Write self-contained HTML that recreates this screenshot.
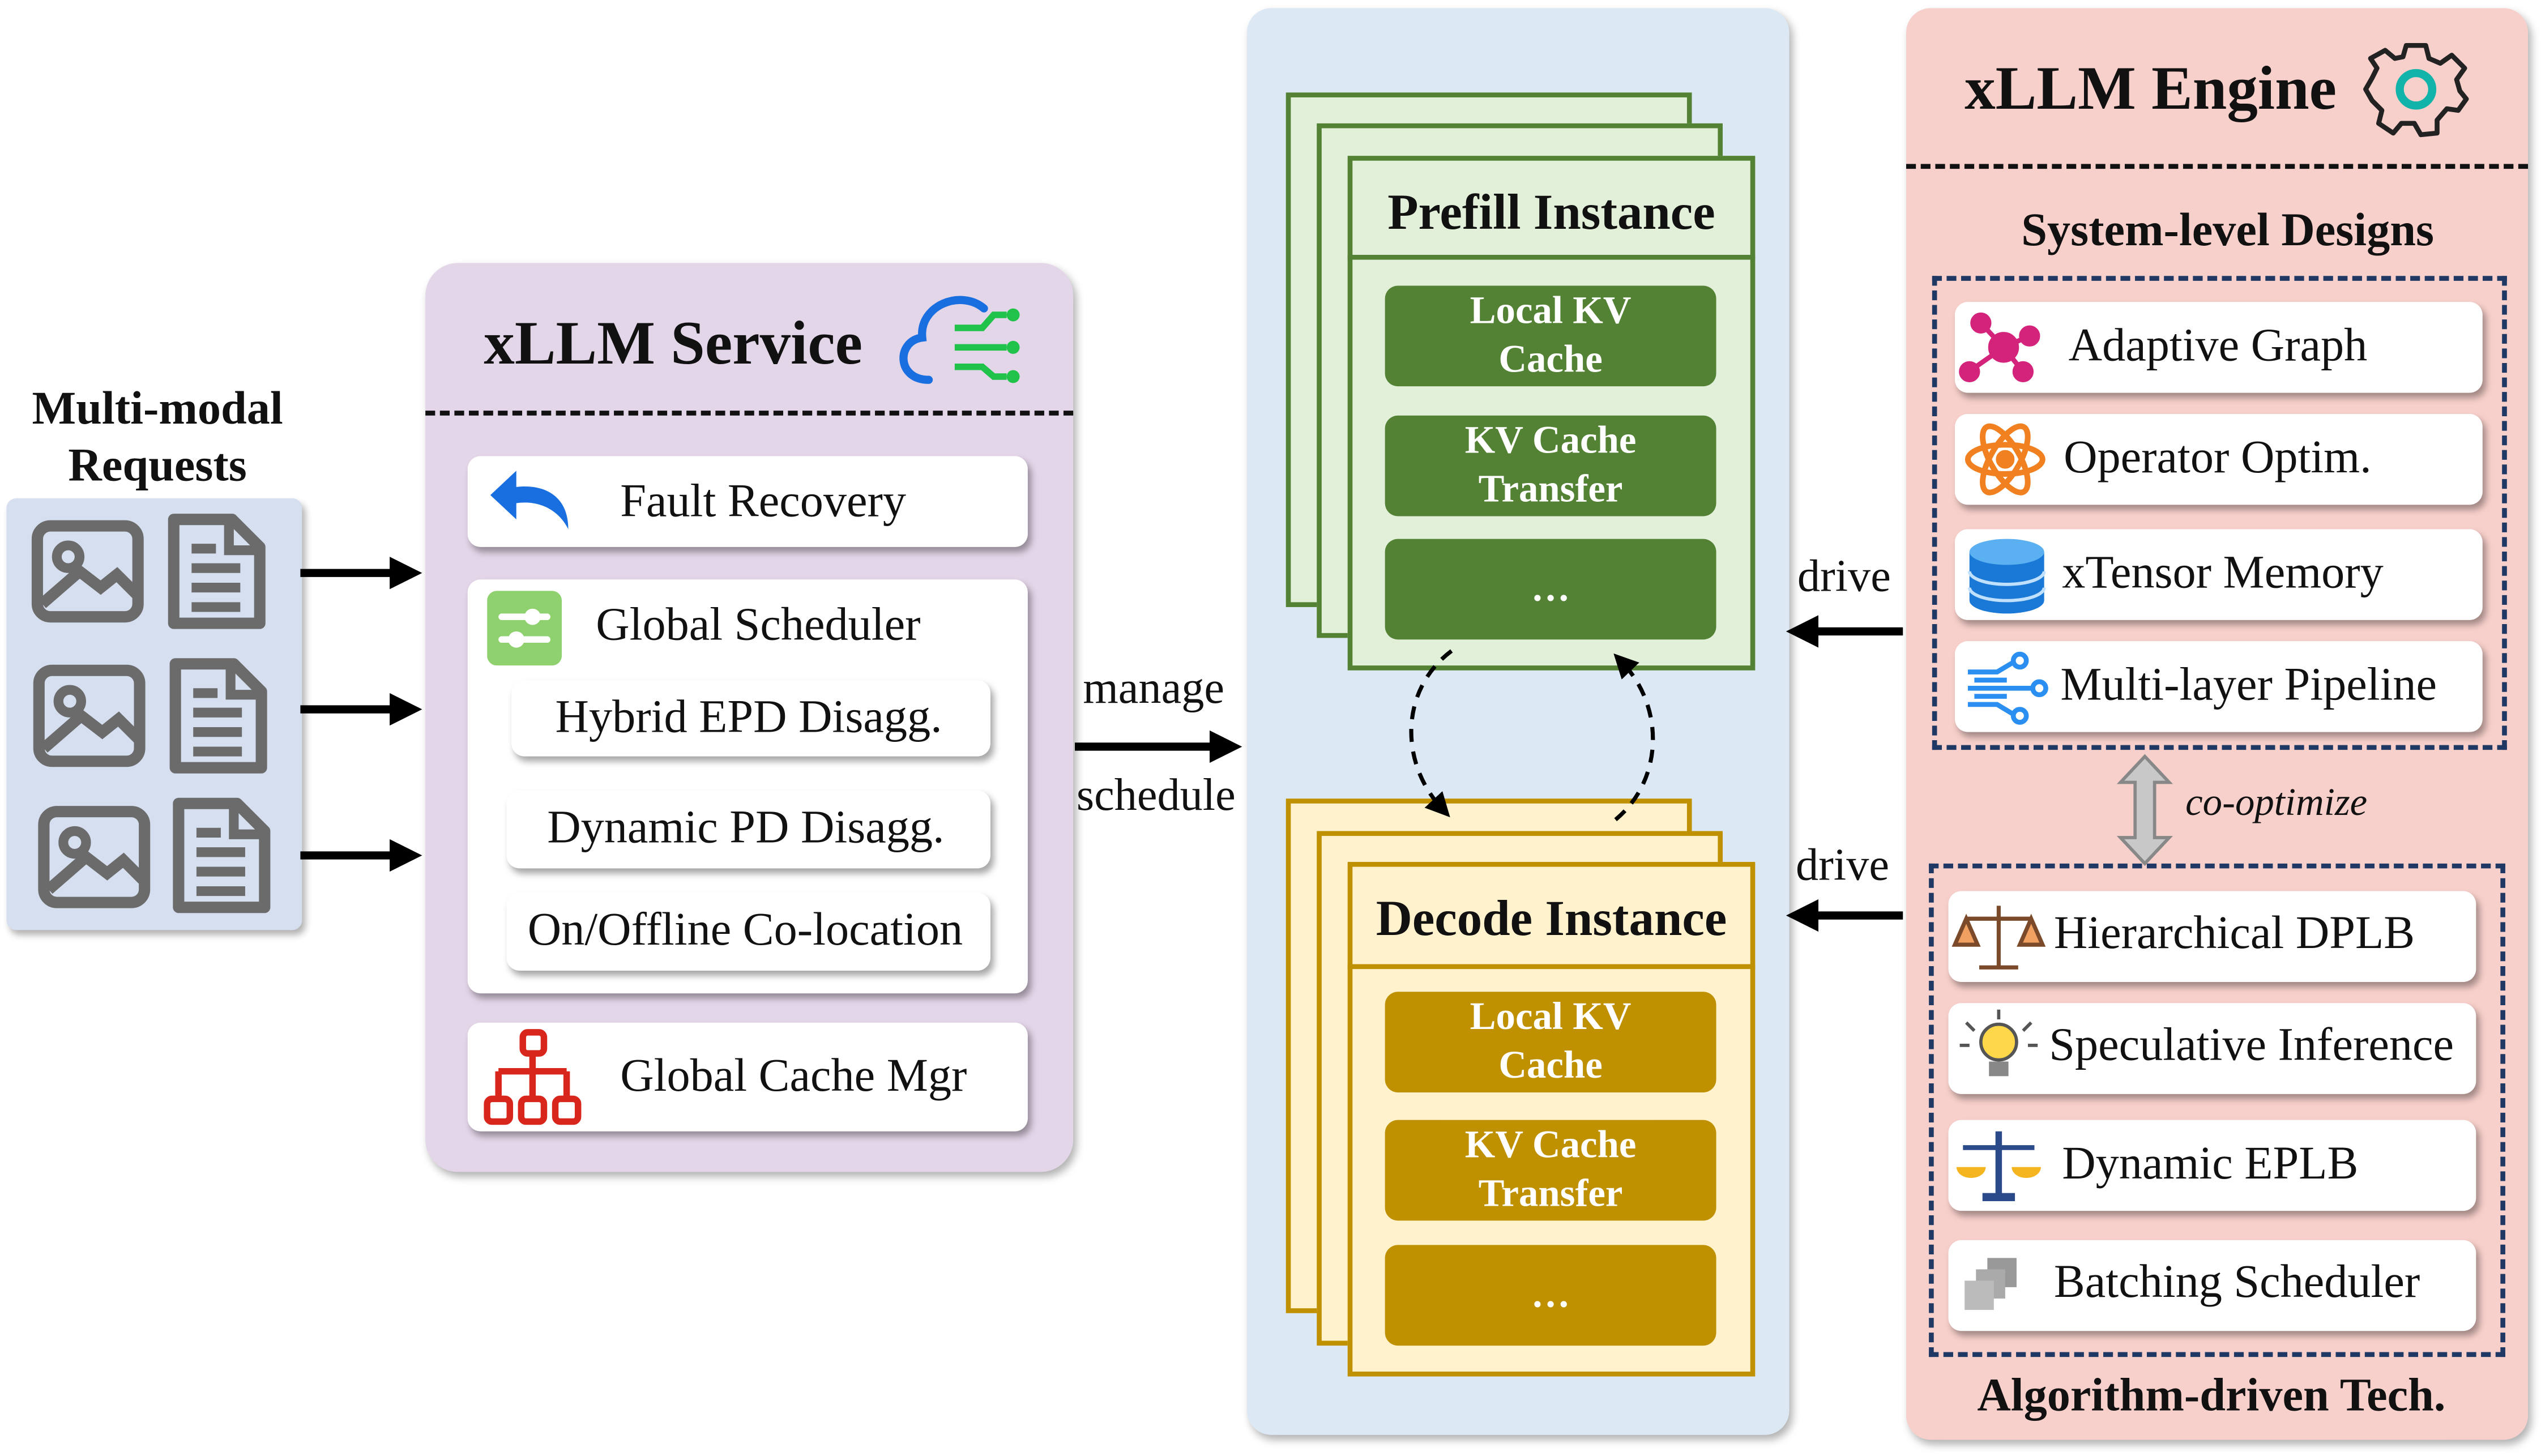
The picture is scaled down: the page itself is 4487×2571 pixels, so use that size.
<!DOCTYPE html>
<html><head><meta charset="utf-8"><style>
html,body{margin:0;padding:0;background:#fff;}
body{width:4487px;height:2571px;overflow:hidden;position:relative;}
#w{position:absolute;left:0;top:0;width:1565px;height:897px;transform:scale(2.8671,2.8662);transform-origin:0 0;font-family:"Liberation Serif",serif;color:#111;}
.a{position:absolute;box-sizing:border-box;}
.t{position:absolute;white-space:nowrap;}
.card{position:absolute;background:#fff;border-radius:8px;box-shadow:2px 3px 4px rgba(0,0,0,.35);box-sizing:border-box;}
.lbl{font-size:28.7px;}
.b{font-weight:bold;}
.btn{position:absolute;border-radius:8px;color:#fff;font-weight:bold;font-size:24px;text-align:center;line-height:30px;display:flex;align-items:center;justify-content:center;}
</style></head><body><div id="w">

<!-- Left requests -->
<div class="t b" style="left:0;width:194px;text-align:center;top:235px;font-size:28.7px;line-height:35px;">Multi-modal<br>Requests</div>
<div class="a" style="left:4px;top:307px;width:182px;height:266px;background:#d5dfef;border-radius:6px;box-shadow:2px 3px 4px rgba(0,0,0,.3);"></div>
<svg class="a" style="left:0;top:0" width="300" height="600">
 <defs>
  <g id="img"><rect x="-31" y="-28" width="62" height="56" rx="8" fill="none" stroke="#6b6b6b" stroke-width="7"/><circle cx="-12" cy="-9" r="7" fill="none" stroke="#6b6b6b" stroke-width="6"/><path d="M-28 20 L-5 0 L8 10 L18 2 L30 14" fill="none" stroke="#6b6b6b" stroke-width="7"/></g>
  <g id="doc"><path d="M-26 -32 H10 L27 -15 V32 H-26 Z" fill="none" stroke="#6b6b6b" stroke-width="7" stroke-linejoin="round"/><path d="M8 -32 V-13 H27" fill="none" stroke="#6b6b6b" stroke-width="6"/><path d="M-15 -2 H15 M-15 10 H15 M-15 22 H15 M-15 -14 H0" stroke="#6b6b6b" stroke-width="6"/></g>
  <marker id="ah" markerWidth="4" markerHeight="4" refX="2" refY="2" orient="auto"><path d="M0 0 L4 2 L0 4 Z" fill="#000"/></marker>
 </defs>
 <use href="#img" x="54" y="352"/><use href="#doc" x="133" y="352"/>
 <use href="#img" x="55" y="441"/><use href="#doc" x="134" y="441"/>
 <use href="#img" x="58" y="528"/><use href="#doc" x="136" y="527"/>
 <line x1="185" y1="353" x2="250" y2="353" stroke="#000" stroke-width="5" marker-end="url(#ah)"/>
 <line x1="185" y1="437" x2="250" y2="437" stroke="#000" stroke-width="5" marker-end="url(#ah)"/>
 <line x1="185" y1="527" x2="250" y2="527" stroke="#000" stroke-width="5" marker-end="url(#ah)"/>
</svg>

<!-- xLLM Service -->
<div class="a" style="left:262px;top:162px;width:399px;height:560px;background:#e4d6e9;border-radius:20px;box-shadow:2px 3px 5px rgba(0,0,0,.3);"></div>
<div class="t b" style="left:298px;top:190px;font-size:38px;">xLLM Service</div>
<svg class="a" style="left:550px;top:176px" width="85" height="65"><path d="M22 58 C2 58 2 34 18 32 C16 12 42 2 56 14" fill="none" stroke="#1a6fe0" stroke-width="5" stroke-linecap="round"/><g stroke="#21c24a" stroke-width="4" fill="none"><path d="M38 26 H55 L62 18 H70"/><path d="M38 38 H70"/><path d="M38 50 H55 L62 56 H70"/></g><g fill="#21c24a"><circle cx="74" cy="18" r="4"/><circle cx="74" cy="38" r="4"/><circle cx="74" cy="56" r="4"/></g></svg>
<div class="a" style="left:262px;top:253px;width:399px;border-top:3px dashed #111;"></div>
<div class="card" style="left:288px;top:281px;width:345px;height:56px;"></div>
<svg class="a" style="left:300px;top:288px" width="56" height="42"><path d="M50 38 C50 18 36 10 18 12 V2 L2 17 L18 32 V22 C32 20 44 26 50 38 Z" fill="#1a6fe0"/></svg>
<div class="t lbl" style="left:382px;top:293px;">Fault Recovery</div>
<div class="card" style="left:288px;top:357px;width:345px;height:255px;"></div>
<svg class="a" style="left:300px;top:364px" width="46" height="46"><rect width="46" height="46" rx="6" fill="#8fd16f"/><g stroke="#fff" stroke-width="4" stroke-linecap="round"><line x1="9" y1="16" x2="37" y2="16"/><line x1="9" y1="30" x2="37" y2="30"/></g><circle cx="28" cy="16" r="5" fill="#fff"/><circle cx="18" cy="30" r="5" fill="#fff"/></svg>
<div class="t lbl" style="left:367px;top:369px;">Global Scheduler</div>
<div class="card" style="left:315px;top:419px;width:295px;height:47px;"></div>
<div class="t lbl" style="left:342px;top:426px;">Hybrid EPD Disagg.</div>
<div class="card" style="left:312px;top:487px;width:298px;height:48px;"></div>
<div class="t lbl" style="left:337px;top:494px;">Dynamic PD Disagg.</div>
<div class="card" style="left:312px;top:550px;width:298px;height:48px;"></div>
<div class="t lbl" style="left:325px;top:557px;">On/Offline Co-location</div>
<div class="card" style="left:288px;top:630px;width:345px;height:67px;"></div>
<svg class="a" style="left:297px;top:633px" width="64" height="62"><g fill="none" stroke="#d9261c" stroke-width="4"><rect x="25" y="3" width="13" height="13" rx="3"/><path d="M31 16 V27 M10 27 H52 M10 27 V43 M31 27 V43 M52 27 V43"/><rect x="3" y="44" width="14" height="14" rx="3"/><rect x="24" y="44" width="14" height="14" rx="3"/><rect x="45" y="44" width="14" height="14" rx="3"/></g></svg>
<div class="t lbl" style="left:382px;top:647px;">Global Cache Mgr</div>

<!-- manage/schedule -->
<div class="t" style="left:667px;top:409px;font-size:28px;">manage</div>
<div class="t" style="left:663px;top:475px;font-size:28px;">schedule</div>

<!-- Middle panel -->
<div class="a" style="left:768px;top:5px;width:334px;height:879px;background:#dce8f4;border-radius:15px;box-shadow:2px 3px 5px rgba(0,0,0,.3);"></div>
<!-- Prefill -->
<div class="a" style="left:792px;top:57px;width:250px;height:317px;background:#e2f0d9;border:3px solid #548235;"></div>
<div class="a" style="left:811px;top:76px;width:250px;height:317px;background:#e2f0d9;border:3px solid #548235;"></div>
<div class="a" style="left:830px;top:96px;width:251px;height:317px;background:#e2f0d9;border:3px solid #548235;"></div>
<div class="a" style="left:830px;top:157px;width:251px;border-top:3px solid #548235;"></div>
<div class="t b" style="left:830px;width:251px;text-align:center;top:113px;font-size:31px;">Prefill Instance</div>
<div class="btn" style="left:853px;top:176px;width:204px;height:62px;background:#548235;">Local KV<br>Cache</div>
<div class="btn" style="left:853px;top:256px;width:204px;height:62px;background:#548235;">KV Cache<br>Transfer</div>
<div class="btn" style="left:853px;top:332px;width:204px;height:62px;background:#548235;">…</div>
<!-- Decode -->
<div class="a" style="left:792px;top:492px;width:250px;height:317px;background:#fff2cc;border:3px solid #bf9000;"></div>
<div class="a" style="left:811px;top:512px;width:250px;height:317px;background:#fff2cc;border:3px solid #bf9000;"></div>
<div class="a" style="left:830px;top:531px;width:251px;height:317px;background:#fff2cc;border:3px solid #bf9000;"></div>
<div class="a" style="left:830px;top:594px;width:251px;border-top:3px solid #bf9000;"></div>
<div class="t b" style="left:830px;width:251px;text-align:center;top:548px;font-size:31px;">Decode Instance</div>
<div class="btn" style="left:853px;top:611px;width:204px;height:62px;background:#bf9000;">Local KV<br>Cache</div>
<div class="btn" style="left:853px;top:690px;width:204px;height:62px;background:#bf9000;">KV Cache<br>Transfer</div>
<div class="btn" style="left:853px;top:767px;width:204px;height:62px;background:#bf9000;">…</div>

<!-- overlay svg for arrows -->
<svg class="a" style="left:0;top:0" width="1565" height="897">
 <defs><marker id="ah2" markerWidth="4" markerHeight="4" refX="2" refY="2" orient="auto"><path d="M0 0 L4 2 L0 4 Z" fill="#000"/></marker>
 <marker id="ah3" markerWidth="6" markerHeight="6" refX="3" refY="3" orient="auto"><path d="M0 0 L6 3 L0 6 Z" fill="#000"/></marker></defs>
 <line x1="662" y1="460" x2="755" y2="460" stroke="#000" stroke-width="5" marker-end="url(#ah2)"/>
 <line x1="1172" y1="389" x2="1110" y2="389" stroke="#000" stroke-width="5" marker-end="url(#ah2)"/>
 <line x1="1172" y1="564" x2="1110" y2="564" stroke="#000" stroke-width="5" marker-end="url(#ah2)"/>
 <path d="M894 401 C862 425 862 470 888 498" fill="none" stroke="#000" stroke-width="2.5" stroke-dasharray="8 6" marker-end="url(#ah3)"/>
 <path d="M995 505 C1025 480 1025 435 999 408" fill="none" stroke="#000" stroke-width="2.5" stroke-dasharray="8 6" marker-end="url(#ah3)"/>
</svg>
<div class="t" style="left:1107px;top:340px;font-size:28px;">drive</div>
<div class="t" style="left:1106px;top:518px;font-size:28px;">drive</div>

<!-- Right panel -->
<div class="a" style="left:1174px;top:5px;width:383px;height:882px;background:#f8d0cb;border-radius:15px;box-shadow:2px 3px 5px rgba(0,0,0,.3);"></div>
<div class="t b" style="left:1210px;top:33px;font-size:38px;">xLLM Engine</div>
<svg class="a" style="left:1455px;top:24px" width="66" height="62"><g transform="translate(33,31)"><path d="M-6 -27 H6 L8 -19 L15 -16 L22 -21 L30 -13 L25 -6 L27 1 L31 6 L26 13 L19 12 L13 19 L13 27 L3 28 L-1 21 L-9 21 L-14 27 L-23 21 L-21 13 L-27 7 L-31 0 L-27 -7 L-24 -13 L-28 -19 L-19 -24 L-13 -19 L-8 -20 Z" fill="none" stroke="#222" stroke-width="3" stroke-linejoin="round"/><circle r="10" fill="none" stroke="#12b3a8" stroke-width="5"/></g></svg>
<div class="a" style="left:1174px;top:101px;width:383px;border-top:3px dashed #111;"></div>
<div class="t b" style="left:1174px;width:396px;text-align:center;top:126px;font-size:28.7px;">System-level Designs</div>
<div class="a" style="left:1190px;top:170px;width:354px;height:292px;border:3px dashed #1f3864;"></div>
<div class="card" style="left:1204px;top:186px;width:325px;height:56px;"></div>
<div class="card" style="left:1204px;top:255px;width:325px;height:56px;"></div>
<div class="card" style="left:1204px;top:326px;width:325px;height:56px;"></div>
<div class="card" style="left:1204px;top:395px;width:325px;height:56px;"></div>
<svg class="a" style="left:1204px;top:186px" width="70" height="270">
 <g fill="#d4237a" stroke="#d4237a" stroke-width="3"><line x1="30" y1="28" x2="16" y2="13"/><line x1="30" y1="28" x2="46" y2="21"/><line x1="30" y1="28" x2="10" y2="42"/><line x1="30" y1="28" x2="42" y2="43"/><circle cx="30" cy="28" r="8"/><circle cx="16" cy="13" r="5"/><circle cx="46" cy="21" r="5"/><circle cx="9" cy="43" r="5"/><circle cx="42" cy="43" r="5"/></g>
 <g transform="translate(31,97)" fill="none" stroke="#f08020" stroke-width="3.5"><ellipse rx="23" ry="9"/><ellipse rx="23" ry="9" transform="rotate(60)"/><ellipse rx="23" ry="9" transform="rotate(-60)"/><circle r="4" fill="#f08020"/></g>
 <g transform="translate(32,168)"><path d="M-23 -14 V16 A23 8 0 0 0 23 16 V-14" fill="#1a78d6"/><ellipse cy="-14" rx="23" ry="8" fill="#5ab0f0"/><path d="M-23 -2 A23 8 0 0 0 23 -2 M-23 8 A23 8 0 0 0 23 8" fill="none" stroke="#bfe0ff" stroke-width="2"/></g>
 <g transform="translate(8,238)" fill="none" stroke="#2a8ff0" stroke-width="3"><path d="M0 -10 H18 L28 -16 M0 0 H40 M0 10 H18 L28 16 M4 -5 H24 M4 5 H24"/><circle cx="32" cy="-17" r="4"/><circle cx="44" cy="0" r="4"/><circle cx="32" cy="17" r="4"/></g>
</svg>
<div class="t lbl" style="left:1274px;top:197px;">Adaptive Graph</div>
<div class="t lbl" style="left:1271px;top:266px;">Operator Optim.</div>
<div class="t lbl" style="left:1270px;top:337px;">xTensor Memory</div>
<div class="t lbl" style="left:1269px;top:406px;">Multi-layer Pipeline</div>

<svg class="a" style="left:1300px;top:464px" width="44" height="70"><path d="M21 2 L36 18 H27 V52 H36 L21 68 L6 52 H15 V18 H6 Z" fill="#c8c8c8" stroke="#888" stroke-width="2"/></svg>
<div class="t" style="left:1346px;top:482px;font-size:24px;font-style:italic;">co-optimize</div>

<div class="a" style="left:1188px;top:532px;width:355px;height:304px;border:3px dashed #1f3864;"></div>
<div class="card" style="left:1200px;top:549px;width:325px;height:56px;"></div>
<div class="card" style="left:1200px;top:618px;width:325px;height:56px;"></div>
<div class="card" style="left:1200px;top:690px;width:325px;height:56px;"></div>
<div class="card" style="left:1200px;top:764px;width:325px;height:56px;"></div>
<svg class="a" style="left:1200px;top:549px" width="64" height="272">
 <g transform="translate(31,29)" stroke="#7a4a2a" stroke-width="2.5" fill="none"><line x1="0" y1="-20" x2="0" y2="18"/><line x1="-20" y1="-12" x2="20" y2="-12"/><path d="M-12 18 H12"/><path d="M-20 -12 L-27 4 H-13 Z M20 -12 L13 4 H27 Z" fill="#f0a060"/></g>
 <g transform="translate(31,97)"><circle cy="-4" r="11" fill="#ffd84a" stroke="#555" stroke-width="2"/><rect x="-6" y="8" width="12" height="9" fill="#888"/><g stroke="#555" stroke-width="2"><line x1="-20" y1="-16" x2="-15" y2="-11"/><line x1="20" y1="-16" x2="15" y2="-11"/><line x1="0" y1="-24" x2="0" y2="-18"/><line x1="-24" y1="-2" x2="-18" y2="-2"/><line x1="24" y1="-2" x2="18" y2="-2"/></g></g>
 <g transform="translate(31,170)"><line x1="0" y1="-22" x2="0" y2="18" stroke="#2a4a8a" stroke-width="4"/><line x1="-22" y1="-12" x2="22" y2="-12" stroke="#2a4a8a" stroke-width="3"/><rect x="-10" y="16" width="20" height="5" fill="#2a4a8a"/><path d="M-26 0 A8 6 0 0 0 -8 0 Z M8 0 A8 6 0 0 0 26 0 Z" fill="#f5b521"/></g>
 <g transform="translate(8,226)" fill="#999"><rect x="16" y="0" width="18" height="18"/><rect x="9" y="7" width="18" height="18" fill="#aaa"/><rect x="2" y="14" width="18" height="18" fill="#bbb"/></g>
</svg>
<div class="t lbl" style="left:1265px;top:559px;">Hierarchical DPLB</div>
<div class="t lbl" style="left:1262px;top:628px;">Speculative Inference</div>
<div class="t lbl" style="left:1270px;top:701px;">Dynamic EPLB</div>
<div class="t lbl" style="left:1265px;top:774px;">Batching Scheduler</div>
<div class="t b" style="left:1174px;width:376px;text-align:center;top:844px;font-size:28.7px;">Algorithm-driven Tech.</div>
</div></body></html>
